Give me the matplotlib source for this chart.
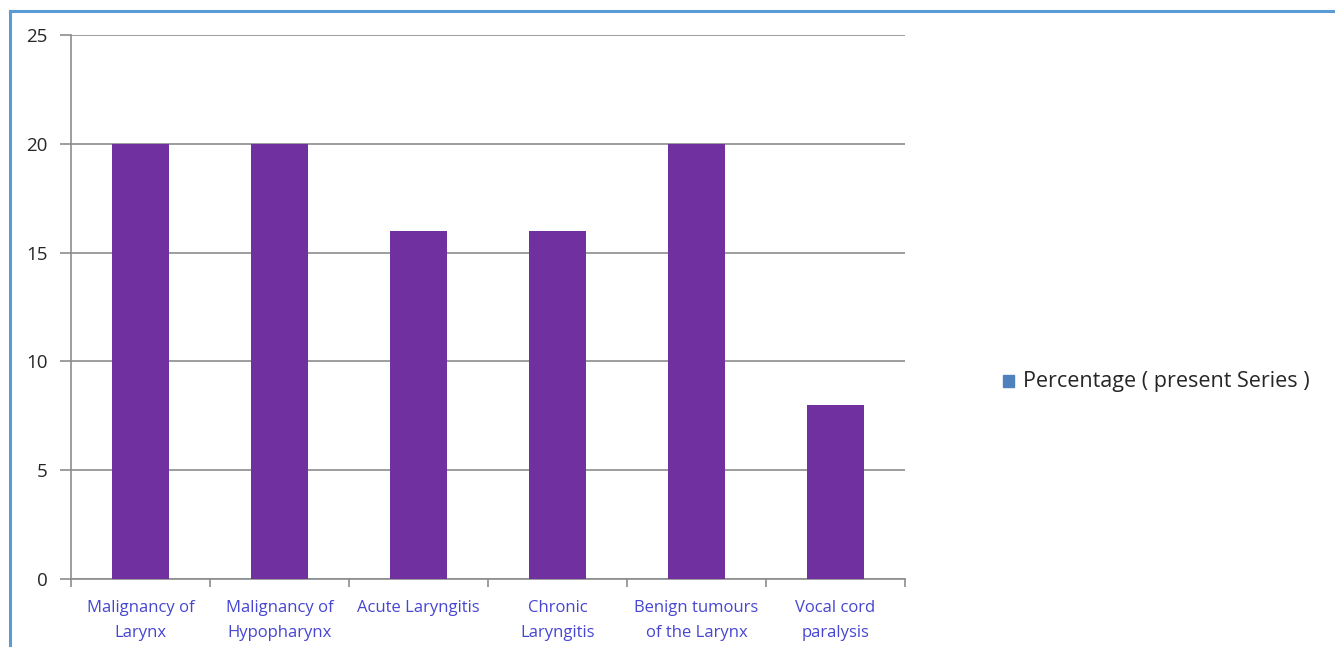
import matplotlib
matplotlib.use("Agg")
import matplotlib.pyplot as plt
from matplotlib.lines import Line2D
from matplotlib.patches import Rectangle

categories = [
    "Malignancy of\nLarynx",
    "Malignancy of\nHypopharynx",
    "Acute Laryngitis",
    "Chronic\nLaryngitis",
    "Benign tumours\nof the Larynx",
    "Vocal cord\nparalysis",
]
percentages = [20, 20, 16, 16, 20, 8]
series_name = "Percentage ( present Series )"
y_ticks = [0, 5, 10, 15, 20, 25]

W, H = 1335, 647
fig = plt.figure(figsize=(W / 100, H / 100), dpi=100)
plt.rcParams["font.family"] = ["Open Sans", "DejaVu Sans"]

ax = fig.add_axes([71 / W, 1 - 579 / H, (905 - 71) / W, (579 - 35) / H])
x = list(range(len(categories)))
ax.bar(x, percentages, width=0.41, color="#7030A0", zorder=3)

ax.set_xlim(-0.5, len(categories) - 0.5)
ax.set_ylim(0, 25)
ax.set_yticks(y_ticks)
ax.set_yticklabels([str(v) for v in y_ticks], fontsize=13.5, color="#262626")
ax.yaxis.grid(True, color="#8c8c8c", linewidth=1.2, zorder=0)
ax.tick_params(axis="y", length=8, width=1.2, color="#8c8c8c", pad=9)

# category boundaries carry the x tick marks
ax.set_xticks([i - 0.5 for i in range(len(categories) + 1)])
ax.set_xticklabels([])
ax.tick_params(axis="x", length=6, width=1.2, color="#8c8c8c", direction="out")
for i, lab in enumerate(categories):
    ax.text(i, -0.039, lab, transform=ax.get_xaxis_transform(), ha="center",
            va="top", fontsize=12, color="#4646d2", linespacing=1.72)

for side in ("top", "right"):
    ax.spines[side].set_visible(False)
for side in ("left", "bottom"):
    ax.spines[side].set_color("#8c8c8c")
    ax.spines[side].set_linewidth(1.2)

# legend
fig.patches.append(Rectangle((1003 / W, 1 - 387 / H), 11 / W, 12 / H,
                             transform=fig.transFigure, color="#4F81BD"))
fig.text(1023 / W, 1 - 382 / H, series_name, ha="left", va="center",
         fontsize=15.5, color="#262626")

# chart frame
border = "#5B9BD5"
fig.add_artist(Line2D([10 / W, 10 / W], [0, 1 - 11 / H], transform=fig.transFigure,
                      color=border, linewidth=2.2))
fig.add_artist(Line2D([10 / W, 1], [1 - 11 / H, 1 - 11 / H], transform=fig.transFigure,
                      color=border, linewidth=2.2))

fig.savefig("out.png", dpi=100)
